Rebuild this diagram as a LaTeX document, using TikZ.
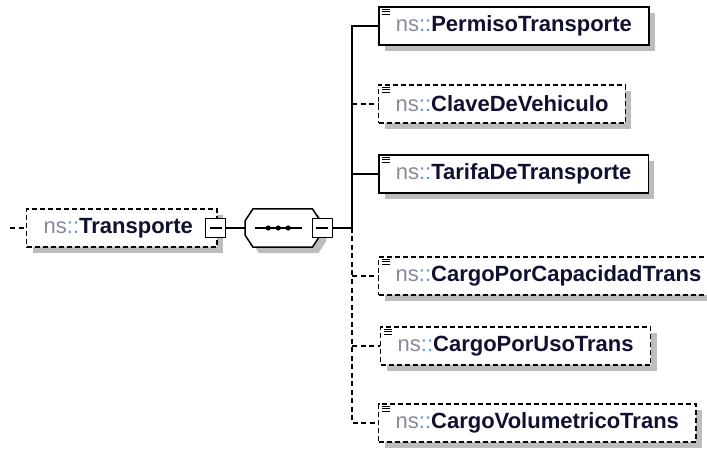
\documentclass[tikz,border=0pt]{standalone}
\usepackage{fontspec}
\setmainfont{Liberation Sans}
\usetikzlibrary{shadows,calc}
\definecolor{nsgray}{HTML}{8A8A99}
\definecolor{nsblue}{HTML}{5B9BD5}
\definecolor{elname}{HTML}{101030}
\definecolor{shade}{HTML}{BDBDBD}
\newcommand\ns[1]{{\color{nsgray}ns}{\color{nsblue}::}{\color{elname}\bfseries #1}}
\newcommand\typeicon[1]{%
  \foreach \k in {0,1,2}
    \draw[line width=1.1pt] ([xshift=3.5pt,yshift=-3pt-2.6*\k pt]#1.north west) -- ++(8,0);}
\tikzset{
  elem/.style={draw, line width=1.7pt, fill=white, anchor=west,
    minimum height=38pt, inner xsep=17pt, inner ysep=0pt,
    font=\fontsize{22}{24}\selectfont,
    general shadow={fill=shade, shadow xshift=6pt, shadow yshift=-6pt}},
  optelem/.style={elem, line width=1.4pt, dash pattern=on 5pt off 3pt},
  wire/.style={line width=1.5pt},
  optwire/.style={wire, dash pattern=on 5pt off 3.5pt},
  minusbox/.style={draw, fill=white, line width=1.3pt, minimum width=20pt,
    minimum height=19pt, inner sep=0pt,
    path picture={\draw[line width=1.1pt]
      ([xshift=4pt]path picture bounding box.west) --
      ([xshift=-4pt]path picture bounding box.east);}},
  seqbox/.style={minimum width=75pt, minimum height=38pt, inner sep=0pt, anchor=west},
  octagon/.style={draw, line width=1.5pt, fill=white,
    general shadow={fill=shade, shadow xshift=6pt, shadow yshift=-6pt}},
}

\begin{document}
\begin{tikzpicture}[x=1pt, y=-1pt]
  \useasboundingbox (0,0) rectangle (707,449);
  \coordinate (in) at (10,228);
  \coordinate (j) at (352,228);

  % root element and its sequence
  \node[optelem] (trans) at (26,228) {\ns{Transporte}\hspace*{7pt}};
  \node[minusbox] (tminus) at ([xshift=-2pt]trans.east) {};
  \node[seqbox] (seq) at (245,228) {};
  \draw[octagon] ($(seq.north west)+(8,0)$) -- ($(seq.north east)+(-8,0)$)
    -- ($(seq.east)+(0,-7)$) -- ($(seq.east)+(0,7)$)
    -- ($(seq.south east)+(-8,0)$) -- ($(seq.south west)+(8,0)$)
    -- ($(seq.west)+(0,7)$) -- ($(seq.west)+(0,-7)$) -- cycle;
  \node[minusbox] (sminus) at ([xshift=2pt]seq.east) {};
  \draw[line width=1.3pt] ([xshift=-27.5pt]seq.center) -- ([xshift=19.5pt]seq.center);
  \foreach \d in {-14.5,-4.5,5.5}
    \fill ([xshift=\d pt]seq.center) circle (2.6pt);

  % children
  \node[elem]    (perm) at (378,26)  {\ns{PermisoTransporte}};
  \node[optelem] (clave) at (378,104) {\ns{ClaveDeVehiculo}};
  \node[elem]    (tarifa) at (378,174) {\ns{TarifaDeTransporte}};
  \node[optelem] (cap) at (378,276) {\ns{CargoPorCapacidadTrans}};
  \node[optelem] (uso) at (380,346) {\ns{CargoPorUsoTrans}};
  \node[optelem] (vol) at (378,423) {\ns{CargoVolumetricoTrans}};
  \foreach \n in {perm,clave,tarifa,cap,uso,vol}
    \typeicon{\n};

  % connectors
  \draw[optwire] (in) -- (trans.west);
  \draw[wire] (tminus.east) -- (seq.west);
  \draw[wire] (sminus.east) -- (j);
  \draw[optwire] (j) |- (vol.west);
  \draw[optwire] (cap.west -| j) -- (cap.west);
  \draw[optwire] (uso.west -| j) -- (uso.west);
  \draw[optwire] (clave.west -| j) -- (clave.west);
  \draw[wire] (j) |- (perm.west);
  \draw[wire] (j) |- (tarifa.west);
\end{tikzpicture}
\end{document}
